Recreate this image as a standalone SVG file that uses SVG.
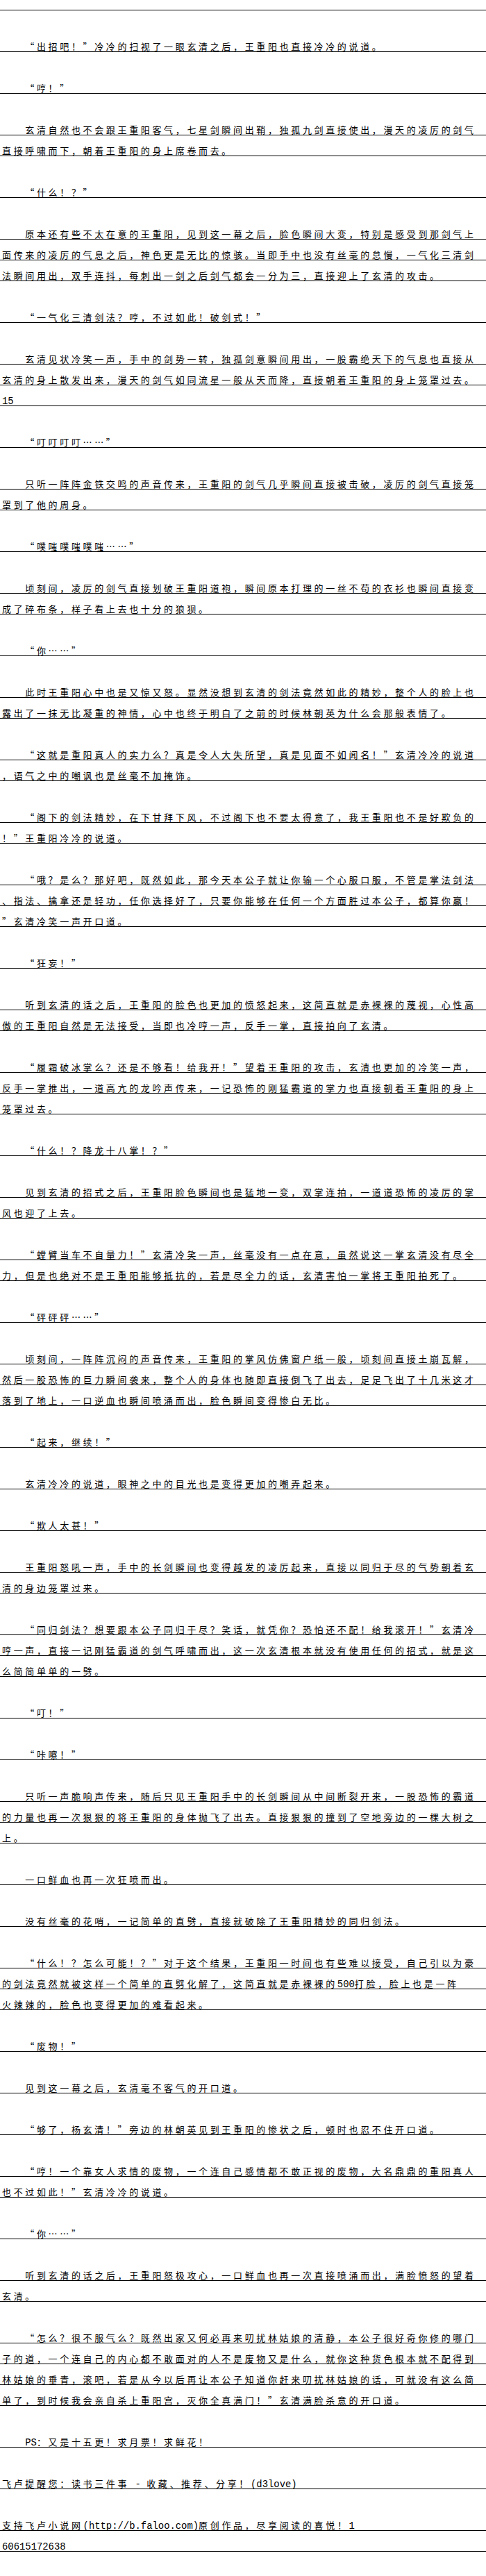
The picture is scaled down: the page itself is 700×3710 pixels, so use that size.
<svg xmlns="http://www.w3.org/2000/svg" width="700" height="3710" viewBox="0 0 700 3710">
<style>
.rule{stroke:#000;stroke-width:1;fill:none}
.t{font-family:"Noto Sans CJK SC","Noto Sans CJK TC",sans-serif;font-size:13px;letter-spacing:3.65px;fill:#000}
.m{font-family:"Liberation Mono",monospace;font-size:13.88px;letter-spacing:0}
</style>
<rect x="0" y="0" width="700" height="3710" fill="#fff"/>
<g id="rules">
<path class="rule" d="M0 14.5H700M0 74.5H700M0 134.5H700M0 194.5H700M0 224.5H700M0 284.5H700M0 344.5H700M0 374.5H700M0 404.5H700M0 464.5H700M0 524.5H700M0 554.5H700M0 584.5H700M0 644.5H700M0 704.5H700M0 734.5H700M0 794.5H700M0 854.5H700M0 884.5H700M0 944.5H700M0 1004.5H700M0 1034.5H700M0 1094.5H700M0 1124.5H700M0 1184.5H700M0 1214.5H700M0 1274.5H700M0 1304.5H700M0 1334.5H700M0 1394.5H700M0 1454.5H700M0 1484.5H700M0 1544.5H700M0 1574.5H700M0 1604.5H700M0 1664.5H700M0 1724.5H700M0 1754.5H700M0 1814.5H700M0 1844.5H700M0 1904.5H700M0 1964.5H700M0 1994.5H700M0 2024.5H700M0 2084.5H700M0 2144.5H700M0 2204.5H700M0 2264.5H700M0 2294.5H700M0 2354.5H700M0 2384.5H700M0 2414.5H700M0 2474.5H700M0 2534.5H700M0 2594.5H700M0 2624.5H700M0 2654.5H700M0 2714.5H700M0 2774.5H700M0 2834.5H700M0 2864.5H700M0 2894.5H700M0 2954.5H700M0 3014.5H700M0 3074.5H700M0 3134.5H700M0 3164.5H700M0 3224.5H700M0 3284.5H700M0 3314.5H700M0 3374.5H700M0 3404.5H700M0 3434.5H700M0 3464.5H700M0 3524.5H700M0 3584.5H700M0 3644.5H700M0 3674.5H700"/>
</g>
<g id="text">
<text class="t" x="36.3" y="72">“出招吧！”冷冷的扫视了一眼玄清之后，王重阳也直接冷冷的说道。</text>
<text class="t" x="36.3" y="132">“哼！”</text>
<text class="t" x="36.3" y="192">玄清自然也不会跟王重阳客气，七星剑瞬间出鞘，独孤九剑直接使出，漫天的凌厉的剑气</text>
<text class="t" x="3" y="222">直接呼啸而下，朝着王重阳的身上席卷而去。</text>
<text class="t" x="36.3" y="282">“什么！？”</text>
<text class="t" x="36.3" y="342">原本还有些不太在意的王重阳，见到这一幕之后，脸色瞬间大变，特别是感受到那剑气上</text>
<text class="t" x="3" y="372">面传来的凌厉的气息之后，神色更是无比的惊骇。当即手中也没有丝毫的怠慢，一气化三清剑</text>
<text class="t" x="3" y="402">法瞬间用出，双手连抖，每刺出一剑之后剑气都会一分为三，直接迎上了玄清的攻击。</text>
<text class="t" x="36.3" y="462">“一气化三清剑法？哼，不过如此！破剑式！”</text>
<text class="t" x="36.3" y="522">玄清见状冷笑一声，手中的剑势一转，独孤剑意瞬间用出，一股霸绝天下的气息也直接从</text>
<text class="t" x="3" y="552">玄清的身上散发出来，漫天的剑气如同流星一般从天而降，直接朝着王重阳的身上笼罩过去。</text>
<text class="t" x="3" y="582"><tspan class="m">15</tspan></text>
<text class="t" x="36.3" y="642">“叮叮叮叮……”</text>
<text class="t" x="36.3" y="702">只听一阵阵金铁交鸣的声音传来，王重阳的剑气几乎瞬间直接被击破，凌厉的剑气直接笼</text>
<text class="t" x="3" y="732">罩到了他的周身。</text>
<text class="t" x="36.3" y="792">“噗嗤噗嗤噗嗤……”</text>
<text class="t" x="36.3" y="852">顷刻间，凌厉的剑气直接划破王重阳道袍，瞬间原本打理的一丝不苟的衣衫也瞬间直接变</text>
<text class="t" x="3" y="882">成了碎布条，样子看上去也十分的狼狈。</text>
<text class="t" x="36.3" y="942">“你……”</text>
<text class="t" x="36.3" y="1002">此时王重阳心中也是又惊又怒。显然没想到玄清的剑法竟然如此的精妙，整个人的脸上也</text>
<text class="t" x="3" y="1032">露出了一抹无比凝重的神情，心中也终于明白了之前的时候林朝英为什么会那般表情了。</text>
<text class="t" x="36.3" y="1092">“这就是重阳真人的实力么？真是令人大失所望，真是见面不如闻名！”玄清冷冷的说道</text>
<text class="t" x="3" y="1122">，语气之中的嘲讽也是丝毫不加掩饰。</text>
<text class="t" x="36.3" y="1182">“阁下的剑法精妙，在下甘拜下风，不过阁下也不要太得意了，我王重阳也不是好欺负的</text>
<text class="t" x="3" y="1212">！”王重阳冷冷的说道。</text>
<text class="t" x="36.3" y="1272">“哦？是么？那好吧，既然如此，那今天本公子就让你输一个心服口服，不管是掌法剑法</text>
<text class="t" x="3" y="1302">、指法、擒拿还是轻功，任你选择好了，只要你能够在任何一个方面胜过本公子，都算你赢！</text>
<text class="t" x="3" y="1332">”玄清冷笑一声开口道。</text>
<text class="t" x="36.3" y="1392">“狂妄！”</text>
<text class="t" x="36.3" y="1452">听到玄清的话之后，王重阳的脸色也更加的愤怒起来，这简直就是赤裸裸的蔑视，心性高</text>
<text class="t" x="3" y="1482">傲的王重阳自然是无法接受，当即也冷哼一声，反手一掌，直接拍向了玄清。</text>
<text class="t" x="36.3" y="1542">“履霜破冰掌么？还是不够看！给我开！”望着王重阳的攻击，玄清也更加的冷笑一声，</text>
<text class="t" x="3" y="1572">反手一掌推出，一道高亢的龙吟声传来，一记恐怖的刚猛霸道的掌力也直接朝着王重阳的身上</text>
<text class="t" x="3" y="1602">笼罩过去。</text>
<text class="t" x="36.3" y="1662">“什么！？降龙十八掌！？”</text>
<text class="t" x="36.3" y="1722">见到玄清的招式之后，王重阳脸色瞬间也是猛地一变，双掌连拍，一道道恐怖的凌厉的掌</text>
<text class="t" x="3" y="1752">风也迎了上去。</text>
<text class="t" x="36.3" y="1812">“螳臂当车不自量力！”玄清冷笑一声，丝毫没有一点在意，虽然说这一掌玄清没有尽全</text>
<text class="t" x="3" y="1842">力，但是也绝对不是王重阳能够抵抗的，若是尽全力的话，玄清害怕一掌将王重阳拍死了。</text>
<text class="t" x="36.3" y="1902">“砰砰砰……”</text>
<text class="t" x="36.3" y="1962">顷刻间，一阵阵沉闷的声音传来，王重阳的掌风仿佛窗户纸一般，顷刻间直接土崩瓦解，</text>
<text class="t" x="3" y="1992">然后一股恐怖的巨力瞬间袭来，整个人的身体也随即直接倒飞了出去，足足飞出了十几米这才</text>
<text class="t" x="3" y="2022">落到了地上，一口逆血也瞬间喷涌而出，脸色瞬间变得惨白无比。</text>
<text class="t" x="36.3" y="2082">“起来，继续！”</text>
<text class="t" x="36.3" y="2142">玄清冷冷的说道，眼神之中的目光也是变得更加的嘲弄起来。</text>
<text class="t" x="36.3" y="2202">“欺人太甚！”</text>
<text class="t" x="36.3" y="2262">王重阳怒吼一声，手中的长剑瞬间也变得越发的凌厉起来，直接以同归于尽的气势朝着玄</text>
<text class="t" x="3" y="2292">清的身边笼罩过来。</text>
<text class="t" x="36.3" y="2352">“同归剑法？想要跟本公子同归于尽？笑话，就凭你？恐怕还不配！给我滚开！”玄清冷</text>
<text class="t" x="3" y="2382">哼一声，直接一记刚猛霸道的剑气呼啸而出，这一次玄清根本就没有使用任何的招式，就是这</text>
<text class="t" x="3" y="2412">么简简单单的一劈。</text>
<text class="t" x="36.3" y="2472">“叮！”</text>
<text class="t" x="36.3" y="2532">“咔嚓！”</text>
<text class="t" x="36.3" y="2592">只听一声脆响声传来，随后只见王重阳手中的长剑瞬间从中间断裂开来，一股恐怖的霸道</text>
<text class="t" x="3" y="2622">的力量也再一次狠狠的将王重阳的身体抛飞了出去。直接狠狠的撞到了空地旁边的一棵大树之</text>
<text class="t" x="3" y="2652">上。</text>
<text class="t" x="36.3" y="2712">一口鲜血也再一次狂喷而出。</text>
<text class="t" x="36.3" y="2772">没有丝毫的花哨，一记简单的直劈，直接就破除了王重阳精妙的同归剑法。</text>
<text class="t" x="36.3" y="2832">“什么！？怎么可能！？”对于这个结果，王重阳一时间也有些难以接受，自己引以为豪</text>
<text class="t" x="3" y="2862">的剑法竟然就被这样一个简单的直劈化解了，这简直就是赤裸裸的<tspan class="m">500</tspan>打脸，脸上也是一阵</text>
<text class="t" x="3" y="2892">火辣辣的，脸色也变得更加的难看起来。</text>
<text class="t" x="36.3" y="2952">“废物！”</text>
<text class="t" x="36.3" y="3012">见到这一幕之后，玄清毫不客气的开口道。</text>
<text class="t" x="36.3" y="3072">“够了，杨玄清！”旁边的林朝英见到王重阳的惨状之后，顿时也忍不住开口道。</text>
<text class="t" x="36.3" y="3132">“哼！一个靠女人求情的废物，一个连自己感情都不敢正视的废物，大名鼎鼎的重阳真人</text>
<text class="t" x="3" y="3162">也不过如此！”玄清冷冷的说道。</text>
<text class="t" x="36.3" y="3222">“你……”</text>
<text class="t" x="36.3" y="3282">听到玄清的话之后，王重阳怒极攻心，一口鲜血也再一次直接喷涌而出，满脸愤怒的望着</text>
<text class="t" x="3" y="3312">玄清。</text>
<text class="t" x="36.3" y="3372">“怎么？很不服气么？既然出家又何必再来叨扰林姑娘的清静，本公子很好奇你修的哪门</text>
<text class="t" x="3" y="3402">子的道，一个连自己的内心都不敢面对的人不是废物又是什么，就你这种货色根本就不配得到</text>
<text class="t" x="3" y="3432">林姑娘的垂青，滚吧，若是从今以后再让本公子知道你赶来叨扰林姑娘的话，可就没有这么简</text>
<text class="t" x="3" y="3462">单了，到时候我会亲自杀上重阳宫，灭你全真满门！”玄清满脸杀意的开口道。</text>
<text class="t" x="36.3" y="3522"><tspan class="m">PS</tspan>：又是十五更！求月票！求鲜花！</text>
<text class="t" x="3" y="3582" xml:space="preserve">飞卢提醒您：读书三件事<tspan class="m"> - </tspan>收藏、推荐、分享！<tspan class="m">(d3love)</tspan></text>
<text class="t" x="3" y="3642">支持飞卢小说网<tspan class="m">(http://b.faloo.com)</tspan>原创作品，尽享阅读的喜悦！<tspan class="m">1</tspan></text>
<text class="t" x="3" y="3672"><tspan class="m">60615172638</tspan></text>
</g>
</svg>
